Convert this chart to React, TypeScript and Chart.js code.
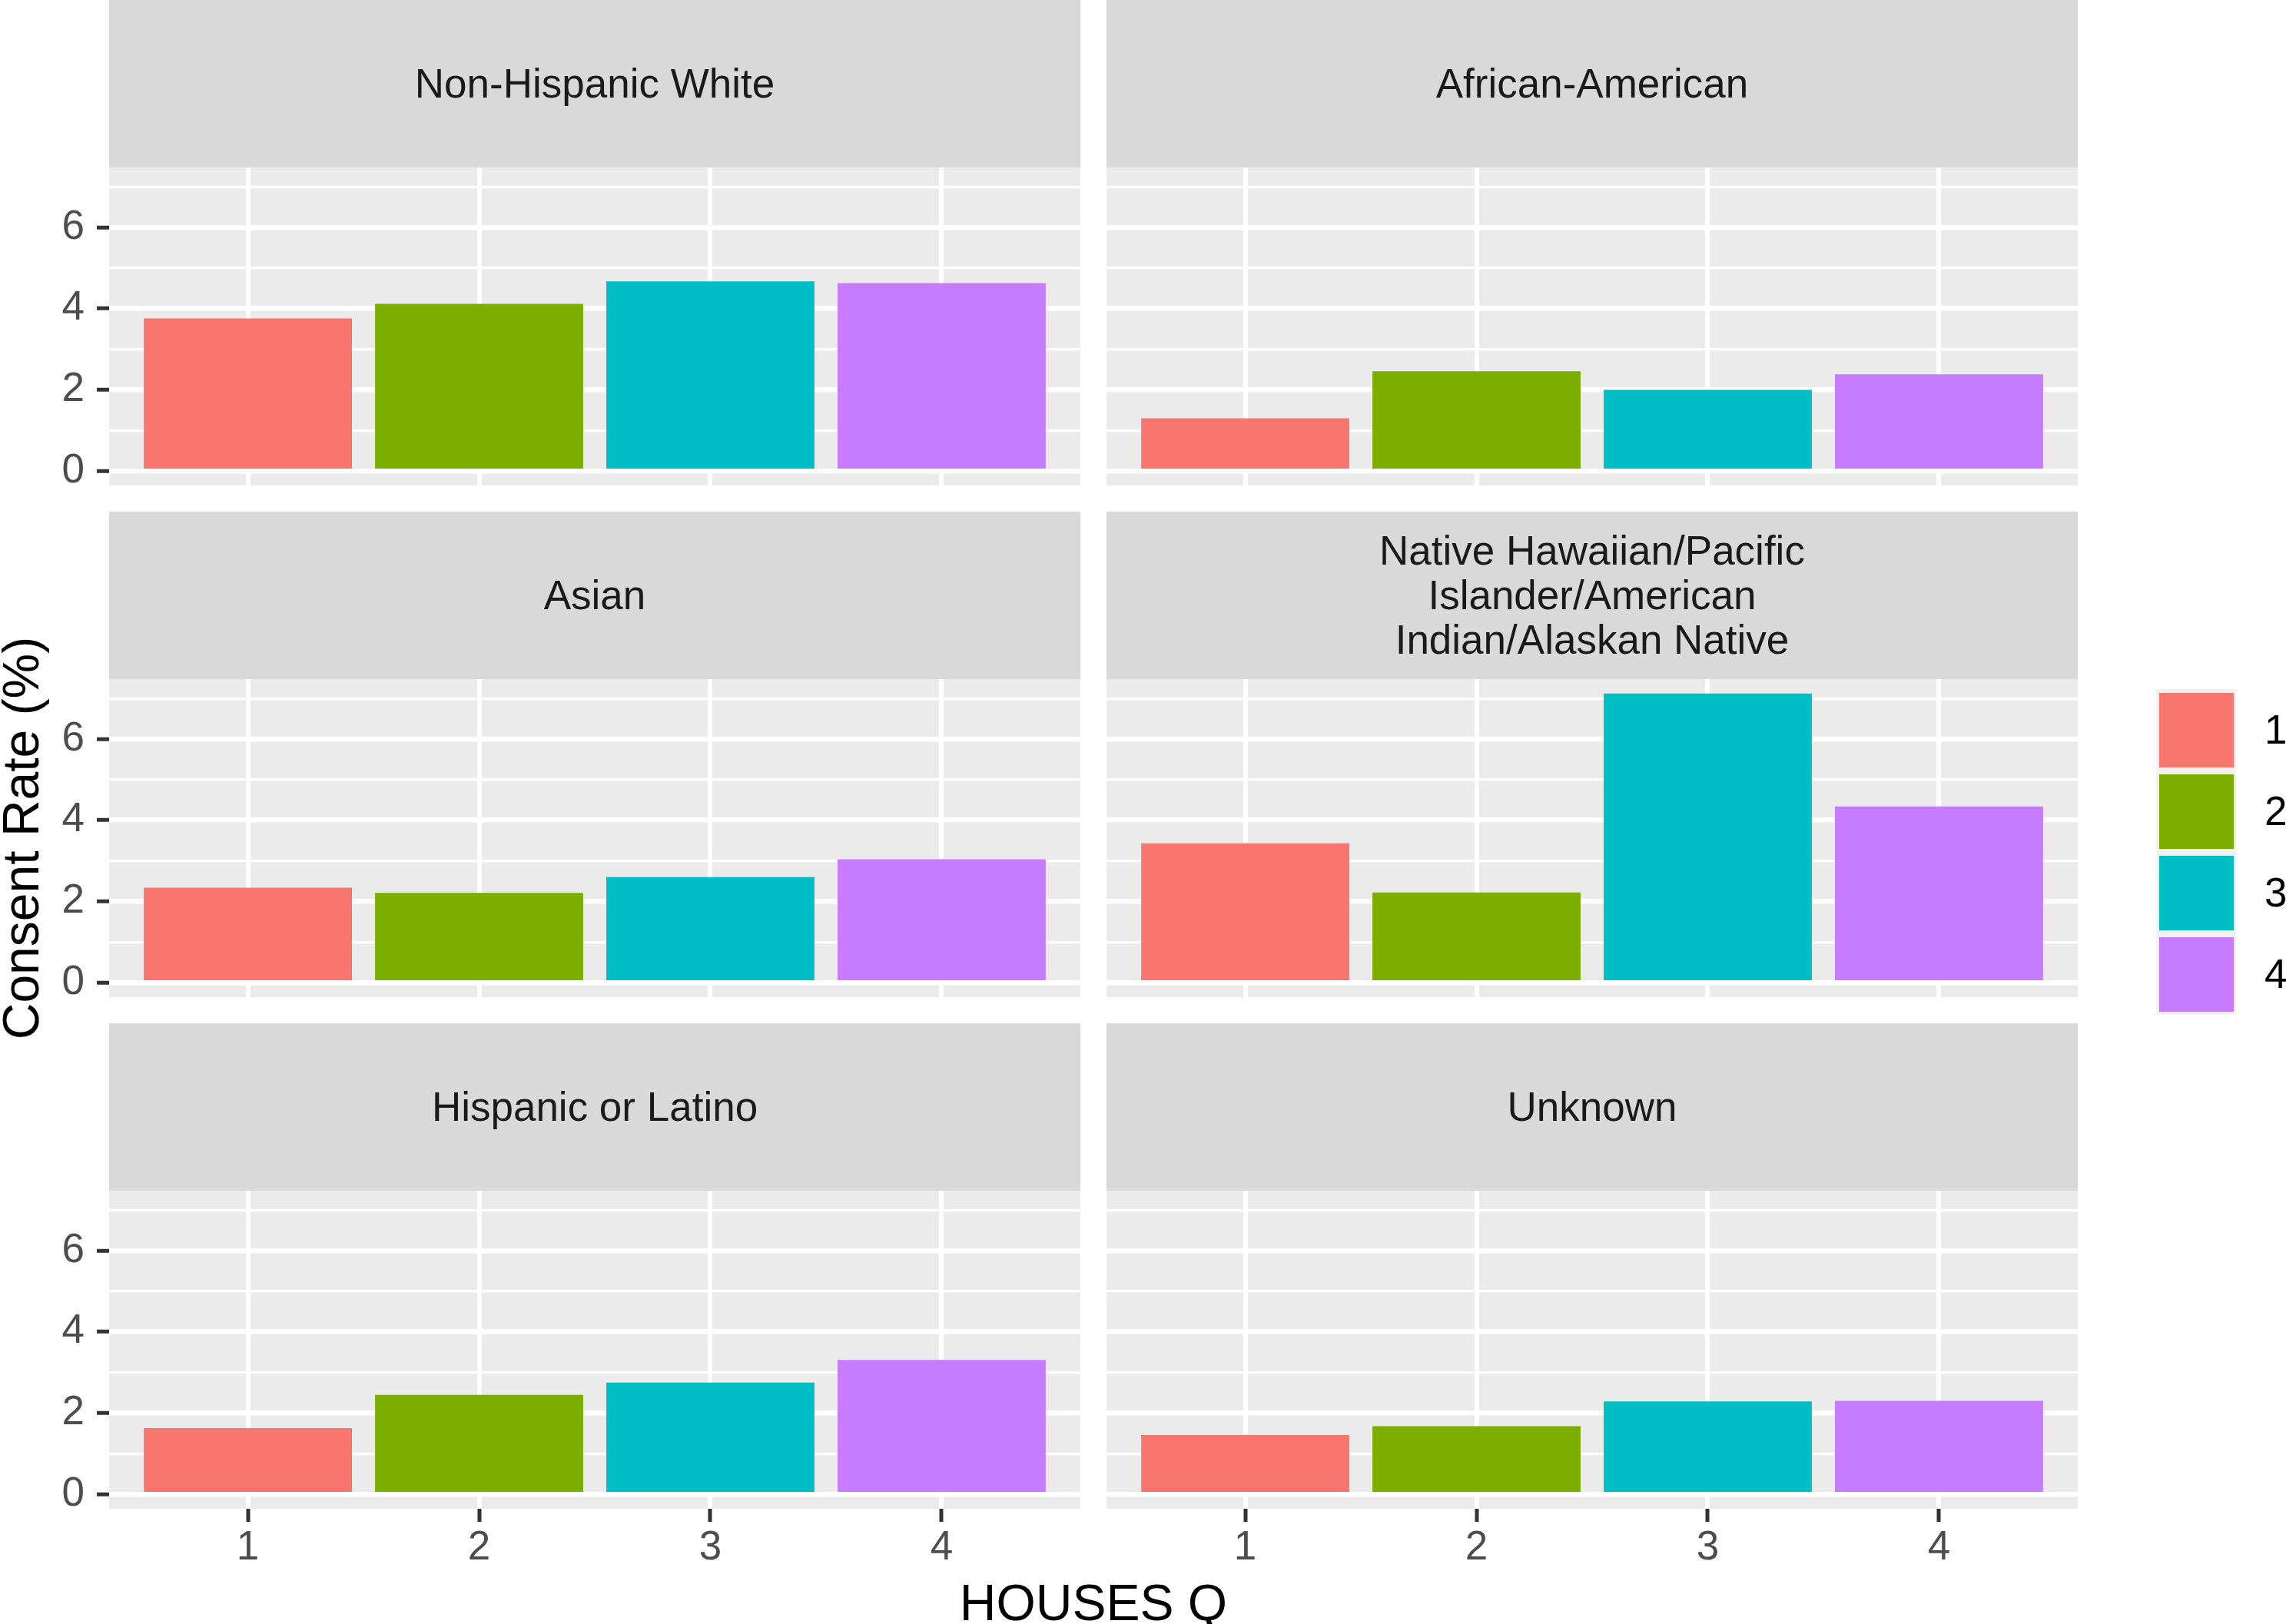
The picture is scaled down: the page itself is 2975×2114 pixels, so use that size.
import React, { useEffect, useRef } from 'react';
import { Chart, registerables } from 'chart.js';

Chart.register(...registerables);

// ---------- data ----------
const quintiles = ['1', '2', '3', '4'];
const panelTitles = [
  'Non-Hispanic White',
  'African-American',
  'Asian',
  'Native Hawaiian/Pacific\nIslander/American\nIndian/Alaskan Native',
  'Hispanic or Latino',
  'Unknown',
];
const nonHispanicWhite = [3.76, 4.12, 4.67, 4.63];
const africanAmerican = [1.3, 2.46, 2.0, 2.38];
const asian = [2.34, 2.21, 2.6, 3.04];
const nhpiAian = [3.43, 2.22, 7.12, 4.34];
const hispanicLatino = [1.63, 2.45, 2.75, 3.31];
const unknownRace = [1.46, 1.68, 2.29, 2.3];
const yMajorTicks = [0, 2, 4, 6];
const yMinorTicks = [1, 3, 5, 7];
const fillColors = ['#F8766D', '#7CAE00', '#00BFC4', '#C77CFF'];

const panelValues = [nonHispanicWhite, africanAmerican, asian, nhpiAian, hispanicLatino, unknownRace];

// ---------- layout ----------
const FONT = "'Liberation Sans', Arial, Helvetica, sans-serif";
const COL_LEFT = [142, 1440];
const PANEL_W = 1264;
const STRIP_TOP = [0, 666, 1332];
const STRIP_H = 218;
const PANEL_H = 414;
const Y_AXIS_W = 142;
const X_AXIS_H = 150;

const allValues = panelValues.flat();
const dataMax = Math.max(...allValues);
const Y_MIN = -0.05 * dataMax;
const Y_MAX = 1.05 * dataMax;

const panelBackground = {
  id: 'panelBackground',
  beforeDraw(chart: any) {
    const { ctx, chartArea: a } = chart;
    ctx.save();
    ctx.fillStyle = '#EBEBEB';
    ctx.fillRect(a.left, a.top, a.right - a.left, a.bottom - a.top);
    ctx.restore();
  },
};

function zeroPadding(s: any) {
  s.paddingTop = 0;
  s.paddingBottom = 0;
  s.paddingLeft = 0;
  s.paddingRight = 0;
}

function Panel({ values, showY, showX, left, top }: any) {
  const ref = useRef<HTMLCanvasElement | null>(null);
  const width = (showY ? Y_AXIS_W : 0) + PANEL_W;
  const height = PANEL_H + (showX ? X_AXIS_H : 0);
  const canvasLeft = showY ? left - Y_AXIS_W : left;

  useEffect(() => {
    if (!ref.current) return;
    const chart = new Chart(ref.current, {
      type: 'bar',
      data: {
        datasets: [
          {
            data: values.map((v: number, i: number) => ({ x: i + 1, y: v })),
            backgroundColor: fillColors,
            borderWidth: 0,
            barPercentage: 0.9,
            categoryPercentage: 1,
          },
        ],
      },
      options: {
        animation: false,
        responsive: false,
        devicePixelRatio: 1,
        layout: { padding: 0 },
        plugins: {
          legend: { display: false },
          tooltip: { enabled: false },
          title: { display: false },
        },
        scales: {
          x: {
            type: 'linear',
            min: 0.4,
            max: 4.6,
            offset: false,
            afterBuildTicks: (s: any) => {
              s.ticks = quintiles.map((_q, i) => ({ value: i + 1 }));
            },
            afterFit: (s: any) => {
              s.height = showX ? X_AXIS_H : 0;
              zeroPadding(s);
            },
            grid: {
              color: '#FFFFFF',
              lineWidth: 6,
              offset: false,
              drawTicks: showX,
              tickLength: 17,
              tickColor: '#333333',
              tickWidth: 5,
            },
            border: { display: false },
            ticks: {
              display: showX,
              padding: 3,
              color: '#4D4D4D',
              font: { family: FONT, size: 53 },
              autoSkip: false,
              maxRotation: 0,
              callback: (v: any) => quintiles[Math.round(v) - 1] ?? '',
            },
          },
          y: {
            type: 'linear',
            min: Y_MIN,
            max: Y_MAX,
            afterBuildTicks: (s: any) => {
              s.ticks = [...yMajorTicks, ...yMinorTicks].sort((a, b) => a - b).map((v) => ({ value: v }));
            },
            afterFit: (s: any) => {
              s.width = showY ? Y_AXIS_W : 0;
              zeroPadding(s);
            },
            grid: {
              color: '#FFFFFF',
              lineWidth: (ctx: any) => (yMajorTicks.includes(ctx.tick?.value) ? 6.5 : 3.3),
              drawTicks: showY,
              tickLength: 16,
              tickWidth: 5,
              tickColor: (ctx: any) => (yMajorTicks.includes(ctx.tick?.value) ? '#333333' : 'rgba(0,0,0,0)'),
            },
            border: { display: false },
            ticks: {
              display: showY,
              padding: 16,
              color: '#4D4D4D',
              font: { family: FONT, size: 53 },
              autoSkip: false,
              callback: (v: any) => (yMajorTicks.includes(v) ? String(v) : ''),
            },
          },
        },
      } as any,
      plugins: [panelBackground],
    });
    return () => chart.destroy();
  }, []);

  return (
    <canvas
      ref={ref}
      width={width}
      height={height}
      style={{ position: 'absolute', left: canvasLeft, top, width, height }}
    />
  );
}

export default function App() {
  const panels = panelValues.map((values, idx) => {
    const row = Math.floor(idx / 2);
    const col = idx % 2;
    return { values, row, col, title: panelTitles[idx] };
  });

  return (
    <div
      style={{
        position: 'absolute',
        left: 0,
        top: 0,
        width: 2975,
        height: 2114,
        background: '#FFFFFF',
        overflow: 'hidden',
        fontFamily: FONT,
      }}
    >
      {panels.map((p, i) => (
        <React.Fragment key={i}>
          <div
            style={{
              position: 'absolute',
              left: COL_LEFT[p.col],
              top: STRIP_TOP[p.row],
              width: PANEL_W,
              height: STRIP_H,
              background: '#D9D9D9',
              color: '#1A1A1A',
              fontSize: 53,
              lineHeight: '58px',
              whiteSpace: 'pre-line',
              textAlign: 'center',
              display: 'flex',
              alignItems: 'center',
              justifyContent: 'center',
            }}
          >
            {p.title}
          </div>
          <Panel
            values={p.values}
            showY={p.col === 0}
            showX={p.row === 2}
            left={COL_LEFT[p.col]}
            top={STRIP_TOP[p.row] + STRIP_H}
          />
        </React.Fragment>
      ))}

      {/* y axis title */}
      <div
        style={{
          position: 'absolute',
          left: 27 - 400,
          top: 1091 - 40,
          width: 800,
          height: 80,
          lineHeight: '80px',
          textAlign: 'center',
          fontSize: 66,
          color: '#000000',
          transform: 'rotate(-90deg)',
          transformOrigin: '50% 50%',
          whiteSpace: 'nowrap',
        }}
      >
        Consent Rate (%)
      </div>

      {/* x axis title */}
      <div
        style={{
          position: 'absolute',
          left: 1423 - 400,
          top: 2086 - 40,
          width: 800,
          height: 80,
          lineHeight: '80px',
          textAlign: 'center',
          fontSize: 66,
          color: '#000000',
          whiteSpace: 'nowrap',
        }}
      >
        HOUSES Q
      </div>

      {/* legend */}
      <div
        style={{
          position: 'absolute',
          left: 2806,
          top: 897,
          width: 104,
          height: 106 * quintiles.length,
          background: '#F2F2F2',
        }}
      />
      {quintiles.map((q, i) => (
        <React.Fragment key={q}>
          <div
            style={{
              position: 'absolute',
              left: 2810,
              top: 897 + 4.5 + i * 106,
              width: 97,
              height: 97,
              background: fillColors[i],
            }}
          />
          <div
            style={{
              position: 'absolute',
              left: 2947,
              top: 897 + i * 106,
              height: 106,
              lineHeight: '106px',
              fontSize: 53,
              color: '#000000',
              whiteSpace: 'nowrap',
            }}
          >
            {q}
          </div>
        </React.Fragment>
      ))}
    </div>
  );
}
